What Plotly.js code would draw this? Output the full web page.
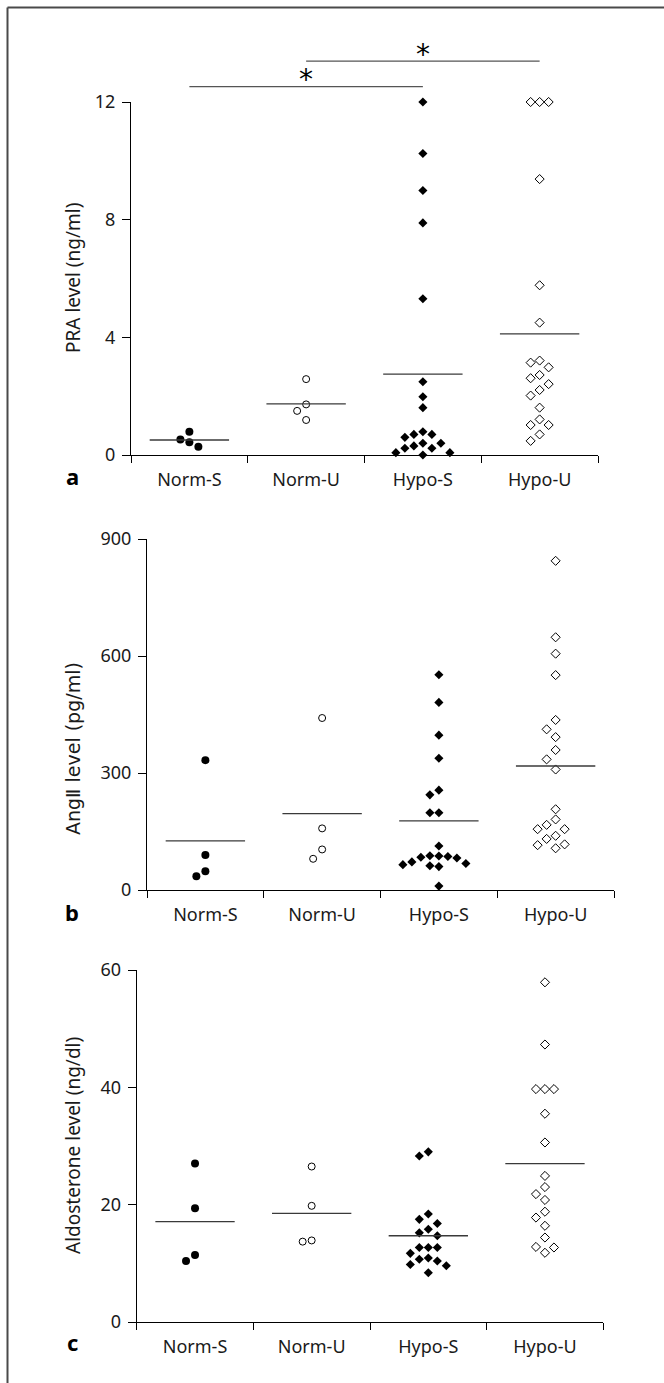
<!DOCTYPE html>
<html><head><meta charset="utf-8">
<script src="https://cdn.plot.ly/plotly-3.0.1.min.js"></script>
<style>html,body{margin:0;padding:0;background:#fff}</style>
</head><body><div id="chart" style="width:664px;height:1383px"></div>
<script>
// ---------- data ----------
const categories = ['Norm-S', 'Norm-U', 'Hypo-S', 'Hypo-U'];

const praNormS = [0.79, 0.53, 0.43, 0.28];
const praNormU = [2.58, 1.72, 1.50, 1.19];
const praHypoS = [12.0, 10.25, 8.99, 7.89, 5.31, 2.49, 1.98, 1.61, 0.79, 0.70, 0.70, 0.60, 0.40, 0.40, 0.31, 0.23, 0.23, 0.08, 0.08, 0.0];
const praHypoU = [12.0, 12.0, 12.0, 9.38, 5.77, 4.50, 3.21, 3.14, 2.98, 2.72, 2.61, 2.41, 2.21, 2.02, 1.61, 1.21, 1.02, 1.02, 0.70, 0.48];
const praMeans = [0.51, 1.74, 2.75, 4.12];
const praTicks = [0, 4, 8, 12];

const angNormS = [333, 90, 48, 35];
const angNormU = [441, 158, 104, 80];
const angHypoS = [552, 481, 397, 338, 256, 244, 198, 198, 113, 87, 86, 88, 84, 82, 72, 68, 65, 62, 60, 10];
const angHypoU = [844, 648, 606, 551, 436, 412, 392, 359, 335, 309, 207, 181, 167, 156, 156, 139, 131, 117, 115, 107];
const angMeans = [126, 196, 177, 318];
const angTicks = [0, 300, 600, 900];

const aldoNormS = [27.0, 19.4, 11.4, 10.4];
const aldoNormU = [26.5, 19.8, 13.9, 13.7];
const aldoHypoS = [29.0, 28.3, 18.4, 17.5, 16.8, 15.8, 15.2, 14.7, 12.7, 12.7, 12.7, 11.7, 10.9, 10.7, 10.4, 9.8, 9.6, 8.4];
const aldoHypoU = [57.9, 47.3, 39.7, 39.7, 39.7, 35.5, 30.6, 24.9, 23.0, 21.8, 20.8, 18.8, 17.8, 16.4, 14.4, 12.8, 12.7, 11.8];
const aldoMeans = [17.1, 18.5, 14.7, 27.0];
const aldoTicks = [0, 20, 40, 60];

const yTitles = ['PRA level (ng/ml)', 'Ang\u2161 level (pg/ml)', 'Aldosterone level (ng/dl)'];
const panelLetters = ['a', 'b', 'c'];
const sigStars = ['*', '*'];

// ---------- layout geometry (pixels) ----------
const W = 664, H = 1383;
const FONT = '"Noto Sans", "Open Sans", "DejaVu Sans", sans-serif';
const WIDE = '"DejaVu Sans", "Noto Sans", sans-serif';
const panels = [
  {groups: [praNormS, praNormU, praHypoS, praHypoU], means: praMeans, ticks: praTicks,
   x0: 131, x1: 598, yTop: 102, yBot: 455, titleY: 278, letterY: 476, titleSize: 19, titleFont: FONT},
  {groups: [angNormS, angNormU, angHypoS, angHypoU], means: angMeans, ticks: angTicks,
   x0: 147, x1: 614, yTop: 539, yBot: 890, titleY: 749, letterY: 912, titleSize: 19, titleFont: WIDE},
  {groups: [aldoNormS, aldoNormU, aldoHypoS, aldoHypoU], means: aldoMeans, ticks: aldoTicks,
   x0: 136.7, x1: 603.3, yTop: 970, yBot: 1322, titleY: 1146, letterY: 1342, titleSize: 19, titleFont: FONT}
];
const symbols = ['circle', 'circle-open', 'diamond', 'diamond-open'];
const mSizes = [8, 7, 7, 7];
const TXT = '#1a1a1a';

function swarm(vals, pxPerUnit, minGap) {
  const order = vals.map((v, i) => i).sort((a, b) => vals[b] - vals[a]);
  const cols = new Array(vals.length);
  const placed = [];
  for (const i of order) {
    const py = vals[i] * pxPerUnit;
    for (const c of [0, -1, 1, -2, 2, -3, 3, -4, 4]) {
      if (placed.every(p => p.c !== c || Math.abs(p.py - py) >= minGap)) {
        cols[i] = c; placed.push({c, py}); break;
      }
    }
  }
  return cols;
}

const traces = [];
const layout = {
  width: W, height: H, margin: {l: 0, r: 0, t: 0, b: 0},
  paper_bgcolor: '#fff', plot_bgcolor: '#fff', showlegend: false,
  font: {family: FONT, color: TXT},
  shapes: [], annotations: []
};

panels.forEach((p, k) => {
  const n = k + 1;
  const xa = 'xaxis' + (n === 1 ? '' : n), ya = 'yaxis' + (n === 1 ? '' : n);
  const xr = 'x' + (n === 1 ? '' : n), yr = 'y' + (n === 1 ? '' : n);
  const ymax = p.ticks[p.ticks.length - 1];
  const pxPerUnit = (p.yBot - p.yTop) / ymax;
  const catW = (p.x1 - p.x0) / categories.length;
  const stepUnits = 9 / catW;
  layout[xa] = {
    domain: [p.x0 / W, p.x1 / W], range: [0, categories.length], anchor: yr,
    showline: true, linecolor: '#000', linewidth: 1, showgrid: false, zeroline: false,
    tickmode: 'array', tickvals: categories.map((c, i) => i + 0.5), ticktext: categories,
    ticks: 'outside', ticklen: 0, ticklabelstandoff: 8,
    minor: {tickmode: 'array', tickvals: categories.map((c, i) => i).concat([categories.length]),
            ticks: 'outside', ticklen: 7, tickwidth: 1, tickcolor: '#000', showgrid: false},
    tickfont: {size: 18, color: TXT, family: FONT}, fixedrange: true
  };
  layout[ya] = {
    domain: [1 - p.yBot / H, 1 - p.yTop / H], range: [0, ymax], anchor: xr,
    showline: true, linecolor: '#000', linewidth: 1, showgrid: false, zeroline: false,
    tickmode: 'array', tickvals: p.ticks, ticks: 'outside', ticklen: 8, tickwidth: 1, tickcolor: '#000',
    ticklabelstandoff: 3,
    tickfont: {size: 18, color: TXT, family: FONT}, fixedrange: true
  };
  p.groups.forEach((vals, g) => {
    const cols = swarm(vals, pxPerUnit, 10);
    const filled = (g % 2 === 0);
    traces.push({
      type: 'scatter', mode: 'markers', xaxis: xr, yaxis: yr, cliponaxis: false,
      x: vals.map((v, i) => g + 0.5 + cols[i] * stepUnits), y: vals,
      marker: {symbol: symbols[g], size: mSizes[g], color: '#000',
               line: {color: '#000', width: filled ? 0 : 1}},
      hoverinfo: 'y'
    });
  });
  p.means.forEach((m, g) => {
    traces.push({
      type: 'scatter', mode: 'lines', xaxis: xr, yaxis: yr, cliponaxis: false,
      x: [g + 0.5 - 0.34, g + 0.5 + 0.34], y: [m, m],
      line: {color: '#3a3a3a', width: 1.3}, hoverinfo: 'skip'
    });
  });
  layout.annotations.push({
    xref: 'paper', yref: 'paper', x: 73 / W, y: 1 - p.titleY / H, text: yTitles[k],
    textangle: -90, showarrow: false, xanchor: 'center', yanchor: 'middle',
    font: {size: p.titleSize, color: TXT, family: p.titleFont}
  });
  layout.annotations.push({
    xref: 'paper', yref: 'paper', x: 72 / W, y: 1 - p.letterY / H, text: '<b>' + panelLetters[k] + '</b>',
    showarrow: false, xanchor: 'center', yanchor: 'middle',
    font: {size: 22, color: '#000', family: FONT}
  });
});

// significance brackets on panel a (category index spans, heights in data units)
const sigBrackets = [
  {from: 0, to: 2, y: 12.52, starY: 12.75},
  {from: 1, to: 3, y: 13.39, starY: 13.60}
];
sigBrackets.forEach((b, i) => {
  const n = categories.length, ymax = praTicks[praTicks.length - 1];
  layout.shapes.push({
    type: 'line', xref: 'x domain', yref: 'y domain',
    x0: (b.from + 0.5) / n, x1: (b.to + 0.5) / n, y0: b.y / ymax, y1: b.y / ymax,
    line: {color: '#555', width: 1.3}
  });
  layout.annotations.push({
    xref: 'x domain', yref: 'y domain', x: ((b.from + b.to) / 2 + 0.5) / n, y: b.starY / ymax, text: sigStars[i],
    showarrow: false, xanchor: 'center', yanchor: 'middle',
    font: {size: 28, color: '#000', family: '"DejaVu Sans", sans-serif'}
  });
});

// outer frame (left and top rules)
layout.shapes.push({type: 'line', xref: 'paper', yref: 'paper', x0: 7.5 / W, x1: 7.5 / W, y0: 0, y1: 1 - 7.5 / H,
  line: {color: '#4a4a4a', width: 2}});
layout.shapes.push({type: 'line', xref: 'paper', yref: 'paper', x0: 7.5 / W, x1: 1, y0: 1 - 7.5 / H, y1: 1 - 7.5 / H,
  line: {color: '#4a4a4a', width: 2}});

Plotly.newPlot('chart', traces, layout, {displayModeBar: false, staticPlot: true});
</script></body></html>
